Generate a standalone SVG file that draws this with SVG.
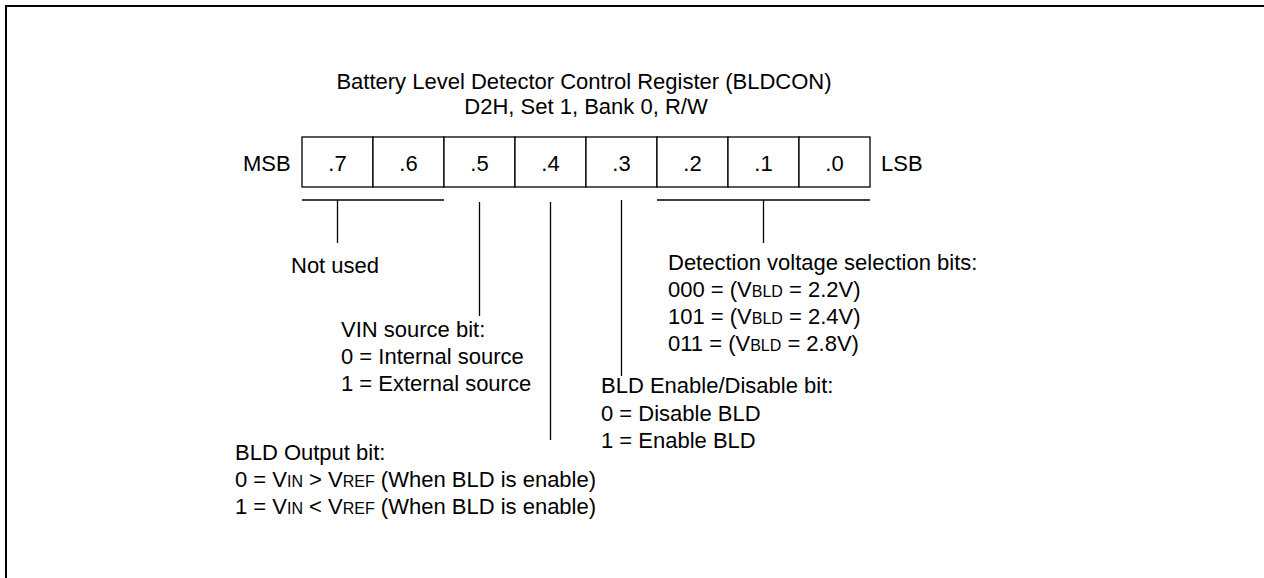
<svg xmlns="http://www.w3.org/2000/svg" width="1264" height="578" viewBox="0 0 1264 578">
<style>
text{font-family:"Liberation Sans",Arial,sans-serif;font-size:22px;fill:#000}
.c{text-anchor:middle}
.s{font-size:16px}
.ln{stroke:#000;stroke-width:1.3;fill:none}
.cell{stroke:#000;stroke-width:1.3;fill:#fff}
</style>
<rect width="1264" height="578" fill="#fff"/>
<path d="M6,578 V6 H1264" fill="none" stroke="#000" stroke-width="2"/>
<g id="title">
<text class="c" x="584" y="89">Battery Level Detector Control Register (BLDCON)</text>
<text class="c" x="586" y="114">D2H, Set 1, Bank 0, R/W</text>
</g>
<g id="register">
<text x="243" y="171">MSB</text>
<rect class="cell" x="302" y="137" width="71" height="50"/>
<rect class="cell" x="373" y="137" width="71" height="50"/>
<rect class="cell" x="444" y="137" width="71" height="50"/>
<rect class="cell" x="515" y="137" width="71" height="50"/>
<rect class="cell" x="586" y="137" width="71" height="50"/>
<rect class="cell" x="657" y="137" width="71" height="50"/>
<rect class="cell" x="728" y="137" width="71" height="50"/>
<rect class="cell" x="799" y="137" width="71" height="50"/>
<text class="c" x="337.5" y="171">.7</text>
<text class="c" x="408.5" y="171">.6</text>
<text class="c" x="479.5" y="171">.5</text>
<text class="c" x="550.5" y="171">.4</text>
<text class="c" x="621.5" y="171">.3</text>
<text class="c" x="692.5" y="171">.2</text>
<text class="c" x="763.5" y="171">.1</text>
<text class="c" x="834.5" y="171">.0</text>
<text x="881" y="171">LSB</text>
</g>
<g id="connectors">
<path class="ln" d="M302,200 H444 M337.5,200 V243"/>
<path class="ln" d="M479.5,202 V316"/>
<path class="ln" d="M550.5,202 V440"/>
<path class="ln" d="M621.5,200 V376"/>
<path class="ln" d="M657,200 H870 M763.5,200 V243"/>
</g>
<g id="not-used">
<text x="291" y="273">Not used</text>
</g>
<g id="vin-source">
<text x="341" y="337">VIN source bit:</text>
<text x="341" y="364">0 = Internal source</text>
<text x="341" y="391">1 = External source</text>
</g>
<g id="detection">
<text x="668" y="270">Detection voltage selection bits:</text>
<text x="668" y="297">000 = (V<tspan class="s">BLD</tspan> = 2.2V)</text>
<text x="668" y="324">101 = (V<tspan class="s">BLD</tspan> = 2.4V)</text>
<text x="668" y="351">011 = (V<tspan class="s">BLD</tspan> = 2.8V)</text>
</g>
<g id="bld-enable">
<text x="601" y="393">BLD Enable/Disable bit:</text>
<text x="601" y="421">0 = Disable BLD</text>
<text x="601" y="448">1 = Enable BLD</text>
</g>
<g id="bld-output">
<text x="235" y="460">BLD Output bit:</text>
<text x="235" y="487">0 = V<tspan class="s">IN</tspan> &gt; V<tspan class="s">REF</tspan> (When BLD is enable)</text>
<text x="235" y="514">1 = V<tspan class="s">IN</tspan> &lt; V<tspan class="s">REF</tspan> (When BLD is enable)</text>
</g>
</svg>
